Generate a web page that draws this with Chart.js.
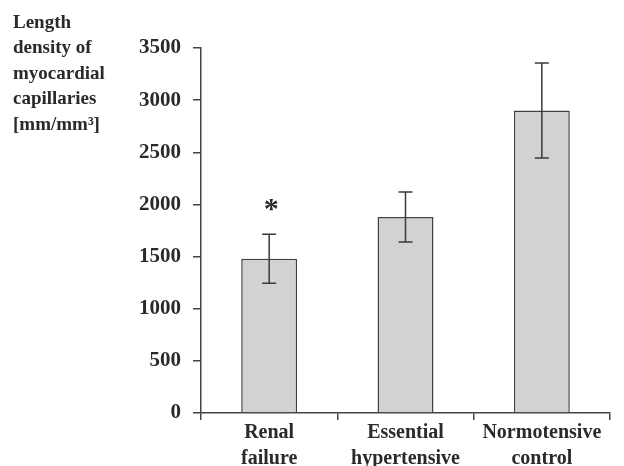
<!DOCTYPE html>
<html>
<head>
<meta charset="utf-8">
<script src="https://cdn.jsdelivr.net/npm/chart.js@4/dist/chart.umd.min.js"></script>
<style>
  html, body { margin: 0; padding: 0; background: #ffffff; }
  #wrap { width: 624px; height: 466px; position: relative; }
</style>
</head>
<body>
<div id="wrap"><canvas id="capChart"></canvas></div>
<script>
// Capillary length density per group (mean and error)
const categories = [['Renal', 'failure'], ['Essential', 'hypertensive'], ['Normotensive', 'control']];
const means = [1480, 1880, 2900];
const errors = [235, 240, 455];
const marks = ['*', '', ''];
const yTicks = [0, 500, 1000, 1500, 2000, 2500, 3000, 3500];
const yTitle = ['Length', 'density of', 'myocardial', 'capillaries', '[mm/mm\u00B3]'];

const FONT = '"Liberation Serif", "Times New Roman", serif';
const INK = '#2a2a2a';

// error bars + significance marks
const errorBars = {
    id: 'errorBars',
    afterDatasetsDraw(chart) {
        const c = chart.ctx;
        const y = chart.scales.y;
        const meta = chart.getDatasetMeta(0);
        c.save();
        c.strokeStyle = '#3a3a3a';
        c.lineWidth = 1.5;
        meta.data.forEach((bar, i) => {
            const top = y.getPixelForValue(means[i] + errors[i]);
            const bot = y.getPixelForValue(means[i] - errors[i]);
            const x = bar.x;
            c.beginPath();
            c.moveTo(x, top); c.lineTo(x, bot);
            c.moveTo(x - 7, top); c.lineTo(x + 7, top);
            c.moveTo(x - 7, bot); c.lineTo(x + 7, bot);
            c.stroke();
            if (marks[i]) {
                c.fillStyle = INK;
                c.font = 'bold 30px ' + FONT;
                c.textAlign = 'center';
                c.textBaseline = 'middle';
                c.fillText(marks[i], x + 2, top - 24);
            }
        });
        c.restore();
    }
};

// stacked y-axis title in the top-left corner
const sideTitle = {
    id: 'sideTitle',
    afterDraw(chart) {
        const c = chart.ctx;
        c.save();
        c.fillStyle = INK;
        c.font = 'bold 19px ' + FONT;
        c.textAlign = 'left';
        c.textBaseline = 'middle';
        yTitle.forEach((line, i) => c.fillText(line, 13, 23 + i * 25.5));
        c.restore();
    }
};

new Chart(document.getElementById('capChart'), {
    type: 'bar',
    data: {
        labels: categories,
        datasets: [{
            data: means,
            backgroundColor: '#d2d2d2',
            borderColor: '#404040',
            borderWidth: 1.5,
            barPercentage: 0.41,
            categoryPercentage: 1
        }]
    },
    options: {
        responsive: true,
        maintainAspectRatio: false,
        animation: false,
        layout: { padding: { top: 48, right: 14, left: 0, bottom: 0 } },
        plugins: {
            legend: { display: false },
            tooltip: { enabled: false }
        },
        scales: {
            y: {
                min: 0,
                max: 3500,
                afterFit(scale) { scale.width = 201; },
                afterBuildTicks(scale) { scale.ticks = yTicks.map(v => ({ value: v })); },
                grid: { drawOnChartArea: false, tickLength: 8, color: '#444', lineWidth: 1.5 },
                border: { display: true, color: '#444', width: 1.5 },
                ticks: {
                    color: INK,
                    padding: 12,
                    callback: v => String(v),
                    font: { family: FONT, size: 21, weight: 'bold' }
                }
            },
            x: {
                afterFit(scale) { scale.height = 53; },
                grid: { drawOnChartArea: false, tickLength: 7, color: '#444', lineWidth: 1.5 },
                border: { display: true, color: '#444', width: 1.5 },
                ticks: {
                    color: INK,
                    padding: 0,
                    maxRotation: 0,
                    font: { family: FONT, size: 20, weight: 'bold', lineHeight: 1.3 }
                }
            }
        }
    },
    plugins: [errorBars, sideTitle]
});
</script>
</body>
</html>
